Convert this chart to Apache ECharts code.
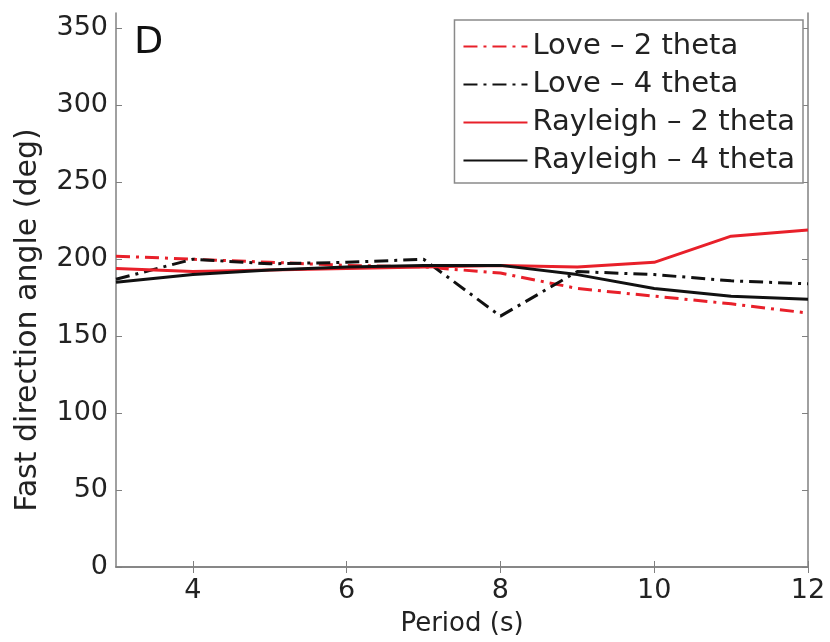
<!DOCTYPE html>
<html>
<head>
<meta charset="utf-8">
<script src="https://cdn.jsdelivr.net/npm/echarts@6/dist/echarts.min.js"></script>
<style>
  html, body { margin: 0; padding: 0; background: #fff; }
  #chart { width: 830px; height: 642px; }
</style>
</head>
<body>
<div id="chart"></div>
<script>
// 周期 (s)
const periods = [3, 4, 5, 6, 7, 8, 9, 10, 11, 12];
// 各序列快波方向角 (deg)
const love2 = [202, 200, 198, 196, 195, 191, 181, 176, 171, 165];
const love4 = [187, 200, 197, 198, 200, 163, 192, 190, 186, 184];
const rayleigh2 = [194, 192, 193, 194, 195, 196, 195, 198, 215, 219];
const rayleigh4 = [185, 190, 193, 195, 196, 196, 190, 181, 176, 174];
const seriesNames = ['Love \u2013 2 theta', 'Love \u2013 4 theta', 'Rayleigh \u2013 2 theta', 'Rayleigh \u2013 4 theta'];
// 刻度
const xTicks = [4, 6, 8, 10, 12];
const yTicks = [0, 50, 100, 150, 200, 250, 300, 350];

const font = 'DejaVu Sans';
const dashDot = [14, 6, 3, 6];
const red = '#e8202a';

function pairs(ys) {
  return periods.map((p, i) => [p, ys[i]]);
}

const chart = echarts.init(document.getElementById('chart'));
const axisLine = { show: true, lineStyle: { color: '#808080', width: 1.5 } };
const tickIn = { show: true, inside: true, length: 6, lineStyle: { color: '#808080' } };

chart.setOption({
  animation: false,
  backgroundColor: '#fff',
  grid: { left: 116, right: 22, top: 13, bottom: 75, outerBoundsMode: 'none' },
  legend: {
    orient: 'vertical',
    right: 27,
    top: 20,
    padding: [12, 8, 8, 8],
    itemGap: 9,
    itemWidth: 64,
    itemHeight: 14,
    borderColor: '#8a8a8a',
    borderWidth: 1.5,
    backgroundColor: '#fff',
    itemStyle: { opacity: 0 },
    textStyle: { fontFamily: font, fontSize: 29, color: '#222' },
    data: seriesNames
  },
  graphic: [{
    type: 'text',
    left: 134,
    top: 24,
    style: { text: 'D', fontFamily: font, fontSize: 38, fill: '#111' }
  }, {
    // y 轴标题
    type: 'text',
    x: 28,
    y: 320,
    rotation: Math.PI / 2,
    style: {
      text: 'Fast direction angle (deg)',
      fontFamily: font,
      fontSize: 30,
      fill: '#222',
      align: 'center',
      verticalAlign: 'middle'
    }
  }],
  xAxis: [{
    type: 'value',
    min: 3,
    max: 12,
    name: 'Period (s)',
    nameLocation: 'middle',
    nameGap: 44,
    nameTextStyle: { fontFamily: font, fontSize: 26, color: '#222' },
    axisLine: axisLine,
    axisTick: Object.assign({ customValues: xTicks }, tickIn),
    axisLabel: { customValues: xTicks, fontFamily: font, fontSize: 27, color: '#222', margin: 10 },
    splitLine: { show: false }
  }, {
    type: 'value',
    position: 'top',
    min: 3,
    max: 12,
    axisLine: axisLine,
    axisTick: Object.assign({ customValues: xTicks }, tickIn),
    axisLabel: { show: false },
    splitLine: { show: false }
  }],
  yAxis: [{
    type: 'value',
    min: 0,
    max: 360,
    axisLine: axisLine,
    axisTick: Object.assign({ customValues: yTicks }, tickIn),
    axisLabel: { customValues: yTicks, fontFamily: font, fontSize: 27, color: '#222', margin: 8 },
    splitLine: { show: false }
  }, {
    type: 'value',
    position: 'right',
    min: 0,
    max: 360,
    axisLine: axisLine,
    axisTick: Object.assign({ customValues: yTicks }, tickIn),
    axisLabel: { show: false },
    splitLine: { show: false }
  }],
  series: [{
    name: seriesNames[0],
    type: 'line',
    data: pairs(love2),
    symbol: 'none',
    color: red,
    lineStyle: { color: red, width: 3, type: dashDot }
  }, {
    name: seriesNames[1],
    type: 'line',
    data: pairs(love4),
    symbol: 'none',
    color: '#111',
    lineStyle: { color: '#111', width: 3, type: dashDot }
  }, {
    name: seriesNames[2],
    type: 'line',
    data: pairs(rayleigh2),
    symbol: 'none',
    color: red,
    lineStyle: { color: red, width: 3, type: 'solid' }
  }, {
    name: seriesNames[3],
    type: 'line',
    data: pairs(rayleigh4),
    symbol: 'none',
    color: '#111',
    lineStyle: { color: '#111', width: 3, type: 'solid' }
  }]
});
</script>
</body>
</html>
